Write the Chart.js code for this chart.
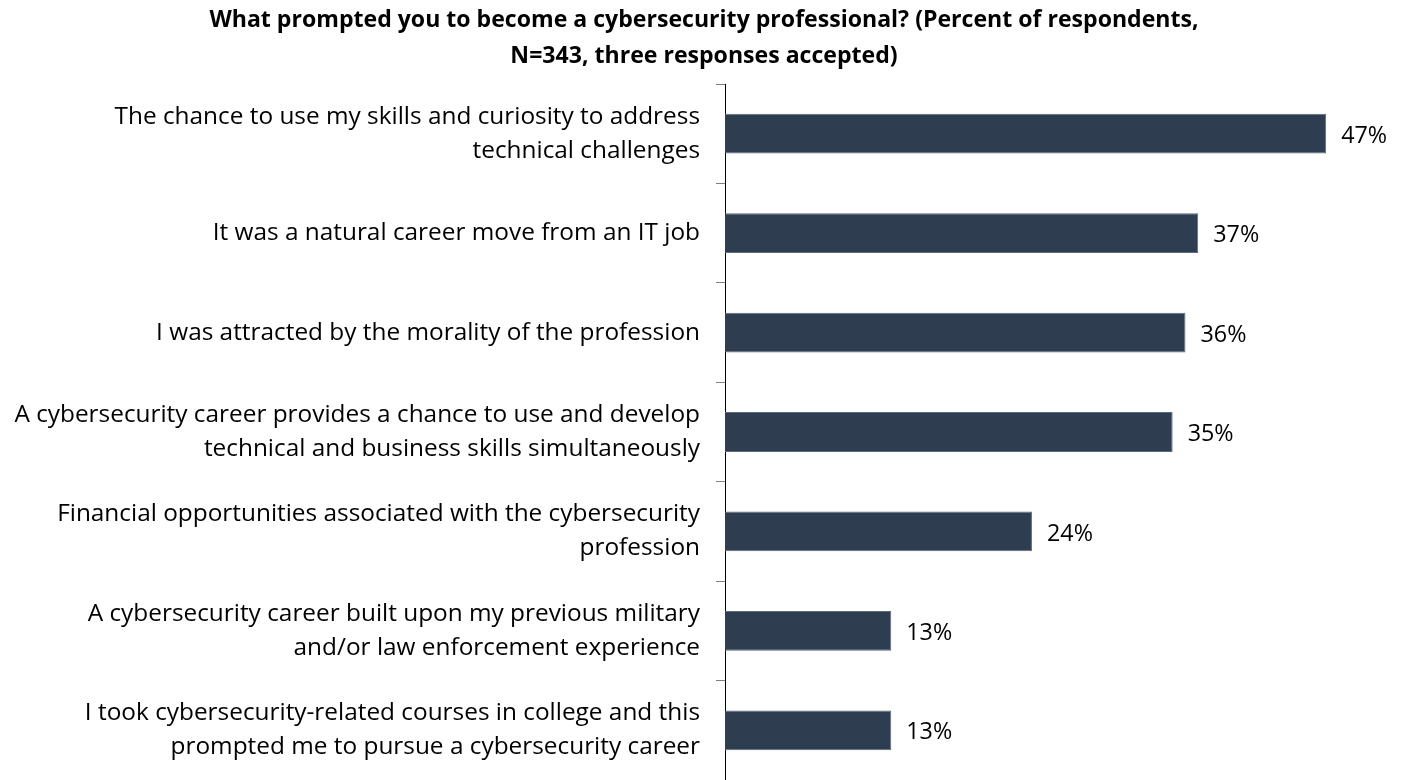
<!DOCTYPE html>
<html>
<head>
<meta charset="utf-8">
<script src="https://cdn.jsdelivr.net/npm/chart.js@4/dist/chart.umd.min.js"></script>
<style>
  html, body { margin: 0; padding: 0; background: #ffffff; }
  #wrap { width: 1408px; height: 780px; position: relative; }
</style>
</head>
<body>
<div id="wrap"><canvas id="c" width="1408" height="780"></canvas></div>
<script>
// Survey question and answer options (multi-line labels as arrays)
const titleLines = [
  'What prompted you to become a cybersecurity professional? (Percent of respondents,',
  'N=343, three responses accepted)'
];
const categories = [
  ['The chance to use my skills and curiosity to address', 'technical challenges'],
  'It was a natural career move from an IT job',
  'I was attracted by the morality of the profession',
  ['A cybersecurity career provides a chance to use and develop', 'technical and business skills simultaneously'],
  ['Financial opportunities associated with the cybersecurity', 'profession'],
  ['A cybersecurity career built upon my previous military', 'and/or law enforcement experience'],
  ['I took cybersecurity-related courses in college and this', 'prompted me to pursue a cybersecurity career']
];
const percents = [47, 37, 36, 35, 24, 13, 13];

// Value axis runs from 0 to a little past 53% so the bars keep some room on the right
const axisMax = 53.4;

const FONT = '"Open Sans", Lato, sans-serif';

// Pick font sizes so the text runs to the intended widths
function sizeFor(text, targetWidth, weight) {
  const m = document.createElement('canvas').getContext('2d');
  m.font = (weight || 'normal') + ' 20px ' + FONT;
  return 20 * targetWidth / m.measureText(text).width;
}

function draw() {
  const labelSize = Math.min(25, sizeFor('A cybersecurity career provides a chance to use and develop', 686));
  const titleSize = Math.min(25, sizeFor(titleLines[0], 990, 'bold'));
  const valueSize = Math.min(25, sizeFor('47%', 46));

  // Writes the percentage just past the end of each bar
  const valueLabels = {
    id: 'valueLabels',
    afterDatasetsDraw(chart) {
      const ctx = chart.ctx;
      const meta = chart.getDatasetMeta(0);
      ctx.save();
      ctx.font = valueSize + 'px ' + FONT;
      ctx.fillStyle = '#000000';
      ctx.textAlign = 'left';
      ctx.textBaseline = 'middle';
      meta.data.forEach((bar, i) => {
        ctx.fillText(percents[i] + '%', bar.x + 15, bar.y + 2.5);
      });
      ctx.restore();
    }
  };

  new Chart(document.getElementById('c'), {
    type: 'bar',
    data: {
      labels: categories,
      datasets: [{
        data: percents,
        backgroundColor: '#2E3E50',
        borderColor: '#5B6B7C',
        borderWidth: 1,
        barPercentage: 0.4,
        categoryPercentage: 1.0
      }]
    },
    options: {
      indexAxis: 'y',
      responsive: false,
      animation: false,
      layout: { padding: 0 },
      plugins: {
        legend: { display: false },
        tooltip: { enabled: false },
        title: {
          display: true,
          text: titleLines,
          color: '#000000',
          font: { family: FONT, size: titleSize, weight: 'bold', lineHeight: '36px' },
          padding: { top: 2, bottom: 10 }
        }
      },
      scales: {
        x: {
          display: false,
          min: 0,
          max: axisMax
        },
        y: {
          afterFit(scale) {
            scale.width = 725;
            scale.paddingTop = 0;
            scale.paddingBottom = 0;
          },
          border: { display: true, color: '#000000', width: 1 },
          grid: {
            display: true,
            drawOnChartArea: false,
            drawTicks: true,
            tickLength: 9,
            color: '#808080',
            lineWidth: 1
          },
          ticks: {
            color: '#000000',
            padding: 16,
            font: { family: FONT, size: labelSize, lineHeight: '34px' }
          }
        }
      }
    },
    plugins: [valueLabels]
  });
}

if (document.fonts && document.fonts.load) {
  Promise.all([
    document.fonts.load('20px "Open Sans"'),
    document.fonts.load('bold 20px "Open Sans"')
  ]).then(draw, draw);
} else {
  draw();
}
</script>
</body>
</html>
